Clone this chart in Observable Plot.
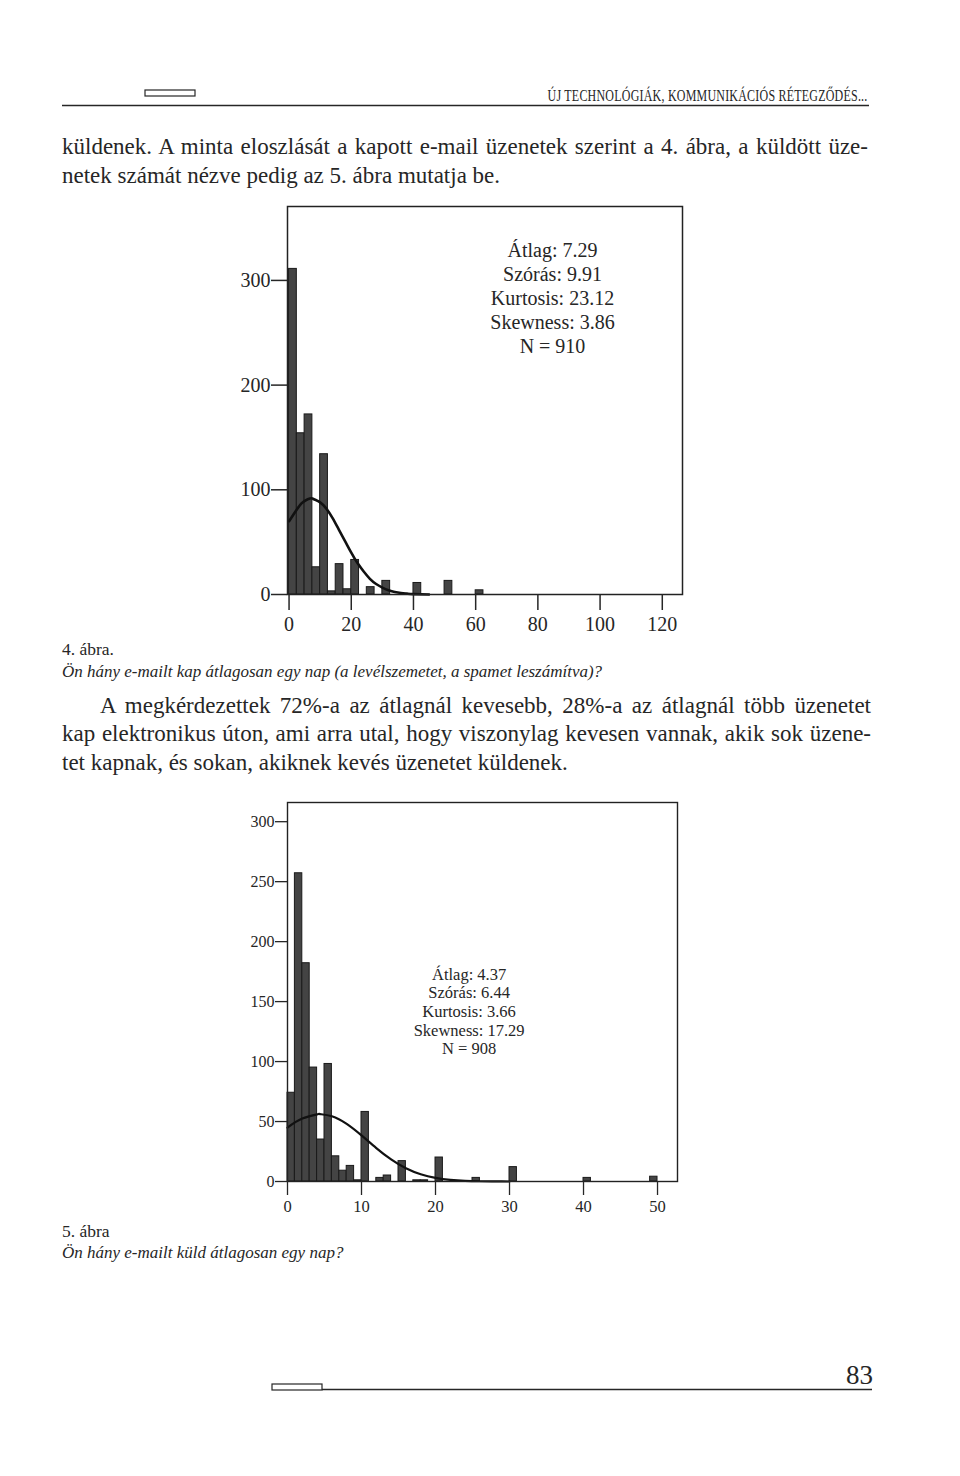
<!DOCTYPE html>
<html><head><meta charset="utf-8">
<script src="https://cdn.jsdelivr.net/npm/d3@7"></script>
<script src="https://cdn.jsdelivr.net/npm/@observablehq/plot@0.6"></script>
<style>
body{margin:0;background:#fff;}
#page{position:relative;width:960px;height:1476px;background:#fff;color:#262626;font-family:"Liberation Serif","Times New Roman",serif;overflow:hidden;}
.ln{position:absolute;white-space:nowrap;line-height:1;}
.just{text-align:justify;text-align-last:justify;}
.it{font-style:italic;}
.chart{position:absolute;left:0;}
#deco{position:absolute;left:0;top:0;}
#hdr{position:absolute;white-space:nowrap;line-height:1;transform-origin:100% 50%;}
</style></head><body><div id="page"></div>
<script>
// ---------- data ----------
const headerText = "ÚJ TECHNOLÓGIÁK, KOMMUNIKÁCIÓS RÉTEGZŐDÉS...";
const para1Lines = [
  "küldenek. A minta eloszlását a kapott e-mail üzenetek szerint a 4. ábra, a küldött üze-",
  "netek számát nézve pedig az 5. ábra mutatja be."
];
const fig4Label = "4. ábra.";
const fig4Caption = "Ön hány e-mailt kap átlagosan egy nap (a levélszemetet, a spamet leszámítva)?";
const para2Lines = [
  "A megkérdezettek 72%-a az átlagnál kevesebb, 28%-a az átlagnál több üzenetet",
  "kap elektronikus úton, ami arra utal, hogy viszonylag kevesen vannak, akik sok üzene-",
  "tet kapnak, és sokan, akiknek kevés üzenetet küldenek."
];
const fig5Label = "5. ábra";
const fig5Caption = "Ön hány e-mailt küld átlagosan egy nap?";
const pageNumber = "83";

// Figure 4: received e-mails per day (bin lower edges, bin width 2.5)
const recvBinWidth = 2.5;
const recvBins   = [0, 2.5, 5, 7.5, 10, 12.5, 15, 17.5, 20, 25, 30, 40, 50, 60];
const recvCounts = [311, 154, 172, 26, 134, 3, 29, 5, 33, 7, 13, 11, 13, 4];
const recvCurveX = [0, 2, 4, 6, 7.3, 8, 10, 12, 14, 16, 18, 20, 22, 24, 26, 28, 30, 32, 34, 36, 38, 40, 45];
const recvCurveY = [70, 79, 87, 91, 92, 91, 88, 82, 73, 62, 51, 40, 30, 22, 15, 10, 6.6, 4.1, 2.4, 1.4, 0.8, 0.4, 0.05];
const recvXTicks = [0, 20, 40, 60, 80, 100, 120];
const recvYTicks = [0, 100, 200, 300];
const recvStats  = ["Átlag: 7.29", "Szórás: 9.91", "Kurtosis: 23.12", "Skewness: 3.86", "N = 910"];

// Figure 5: sent e-mails per day (bin lower edges, bin width 1)
const sentBinWidth = 1;
const sentBins   = [0, 1, 2, 3, 4, 5, 6, 7, 8, 9, 10, 12, 13, 15, 17, 18, 20, 25, 30, 40, 49];
const sentCounts = [74, 257, 182, 95, 35, 98, 21, 9, 13, 1, 58, 3, 5, 17, 1, 1, 20, 3, 12, 3, 4];
const sentCurveX = [0, 2, 4, 4.4, 6, 8, 10, 12, 14, 16, 18, 20, 22, 24, 26, 28, 30];
const sentCurveY = [45, 52.5, 56, 56.2, 54.4, 48, 38.4, 27.9, 18.4, 11, 6, 3, 1.3, 0.5, 0.2, 0.06, 0];
const sentXTicks = [0, 10, 20, 30, 40, 50];
const sentYTicks = [0, 50, 100, 150, 200, 250, 300];
const sentStats  = ["Átlag: 4.37", "Szórás: 6.44", "Kurtosis: 3.66", "Skewness: 17.29", "N = 908"];

// ---------- page ----------
const page = document.getElementById("page");
const INK = "#262626";
const BODY = 23;

function addLine(text, x, baseline, size, opts = {}) {
  const d = document.createElement("div");
  d.className = "ln" + (opts.justify ? " just" : "") + (opts.italic ? " it" : "");
  d.textContent = text;
  d.style.left = x + "px";
  d.style.top = (baseline - 0.8375 * size) + "px";
  d.style.fontSize = size + "px";
  if (opts.width) d.style.width = opts.width + "px";
  page.appendChild(d);
  return d;
}

// decoration svg (header/footer rules)
const deco = d3.select(page).append("svg").attr("id", "deco").attr("width", 960).attr("height", 1476);
deco.append("rect").attr("x", 145).attr("y", 90).attr("width", 50).attr("height", 6)
  .attr("fill", "none").attr("stroke", INK).attr("stroke-width", 1.2);
deco.append("line").attr("x1", 62).attr("x2", 869).attr("y1", 105.5).attr("y2", 105.5)
  .attr("stroke", INK).attr("stroke-width", 1.3);
deco.append("rect").attr("x", 272).attr("y", 1384).attr("width", 50).attr("height", 6)
  .attr("fill", "none").attr("stroke", INK).attr("stroke-width", 1.2);
deco.append("line").attr("x1", 322).attr("x2", 872).attr("y1", 1389.5).attr("y2", 1389.5)
  .attr("stroke", INK).attr("stroke-width", 1.3);

// running header (condensed to fit its width)
const hdr = document.createElement("div");
hdr.id = "hdr";
hdr.textContent = headerText;
hdr.style.fontSize = "16px";
hdr.style.letterSpacing = "0.3px";
page.appendChild(hdr);
const hw = hdr.getBoundingClientRect().width;
hdr.style.left = (868 - hw) + "px";
hdr.style.top = (101 - 0.8375 * 16) + "px";
hdr.style.transform = `scaleX(${320 / hw})`;

// page number
addLine(pageNumber, 846, 1385, 27);

// text blocks
addLine(para1Lines[0], 62, 154, BODY, {justify: true, width: 806});
addLine(para1Lines[1], 62, 183, BODY);
addLine(fig4Label, 62, 656, 17.5);
addLine(fig4Caption, 62, 677, 17, {italic: true});
addLine(para2Lines[0], 100, 713, BODY, {justify: true, width: 771});
addLine(para2Lines[1], 62, 741, BODY, {justify: true, width: 809});
addLine(para2Lines[2], 62, 770, BODY);
addLine(fig5Label, 62, 1238, 17.5);
addLine(fig5Caption, 62, 1258, 17, {italic: true});

// ---------- charts ----------
const recv = recvBins.map((b, i) => ({x1: b, x2: b + recvBinWidth, y: recvCounts[i]}));
const recvCurve = recvCurveX.map((x, i) => ({x, y: recvCurveY[i]}));
const sent = sentBins.map((b, i) => ({x1: b, x2: b + sentBinWidth, y: sentCounts[i]}));
const sentCurve = sentCurveX.map((x, i) => ({x, y: sentCurveY[i]}));

const chart1 = Plot.plot({
  width: 960, height: 448,
  marginLeft: 287, marginRight: 278, marginTop: 10, marginBottom: 50,
  x: {domain: [-0.5, 126.5]},
  y: {domain: [0, 370.6]},
  style: {fontFamily: "Liberation Serif", fontSize: "20px", color: INK, background: "transparent", overflow: "visible"},
  marks: [
    Plot.rectY(recv, {x1: "x1", x2: "x2", y: "y", fill: "#444", stroke: "#1a1a1a", strokeWidth: 1}),
    Plot.line(recvCurve, {x: "x", y: "y", stroke: "#111", strokeWidth: 2.6, curve: "natural"}),
    Plot.frame({stroke: "#222", strokeWidth: 1.5}),
    Plot.axisY({ticks: recvYTicks, tickSize: 16, tickPadding: 1, fontSize: 20, strokeWidth: 1.5, label: null}),
    Plot.axisX({ticks: recvXTicks, tickSize: 16, tickPadding: 6, fontSize: 20, strokeWidth: 1.5, label: null}),
    Plot.text([recvStats.join("\n")], {text: d => d, frameAnchor: "top", dx: 67.5, dy: 33, lineAnchor: "top", fontSize: 20, lineHeight: 1.2, fill: INK})
  ]
});
chart1.classList.add("chart");
chart1.style.top = "196px";
page.appendChild(chart1);

const chart2 = Plot.plot({
  width: 960, height: 431,
  marginLeft: 287, marginRight: 283, marginTop: 12, marginBottom: 40,
  x: {domain: [0, 52.7]},
  y: {domain: [0, 316]},
  style: {fontFamily: "Liberation Serif", fontSize: "16px", color: INK, background: "transparent", overflow: "visible"},
  marks: [
    Plot.rectY(sent, {x1: "x1", x2: "x2", y: "y", fill: "#444", stroke: "#1a1a1a", strokeWidth: 1}),
    Plot.line(sentCurve, {x: "x", y: "y", stroke: "#111", strokeWidth: 2.2, curve: "natural"}),
    Plot.frame({stroke: "#222", strokeWidth: 1.4}),
    Plot.axisY({ticks: sentYTicks, tickSize: 12, tickPadding: 1, fontSize: 16, strokeWidth: 1.3, label: null}),
    Plot.axisX({ticks: sentXTicks, tickSize: 14, tickPadding: 5, fontSize: 16.5, strokeWidth: 1.3, label: null}),
    Plot.text([sentStats.join("\n")], {text: d => d, frameAnchor: "top", dx: -13.4, dy: 164, lineAnchor: "top", fontSize: 16.5, lineHeight: 1.13, fill: INK})
  ]
});
chart2.classList.add("chart");
chart2.style.top = "790px";
page.appendChild(chart2);
</script>
</body></html>
